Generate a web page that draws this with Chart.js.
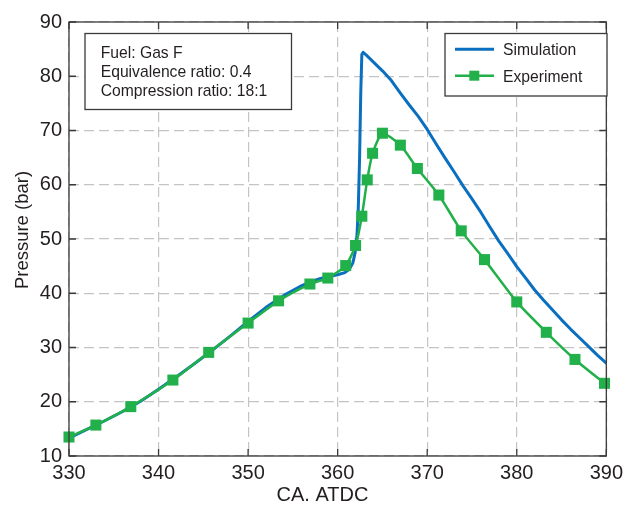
<!DOCTYPE html>
<html>
<head>
<meta charset="utf-8">
<script src="https://cdn.jsdelivr.net/npm/chart.js@4.4.1/dist/chart.umd.min.js"></script>
<style>
  html, body { margin: 0; padding: 0; background: #ffffff; }
  #wrap { width: 628px; height: 506px; }
</style>
</head>
<body>
<div id="wrap"><canvas id="c" width="628" height="506"></canvas></div>
<script>
// ---- data ----
const simX = [330, 332, 334, 336, 338, 340, 342, 344, 346, 348, 350, 352, 354, 356, 357, 358, 359, 360, 360.8, 361.3, 361.7, 361.95, 362.15, 362.3, 362.45, 362.58, 362.7, 362.85, 363.2, 364, 365, 366, 367, 368, 369, 370, 371, 372, 373, 374, 375, 376, 377, 378, 379, 380, 381, 382, 383, 384, 385, 386, 387, 388, 389, 390];
const simY = [13.3, 14.9, 16.5, 18.2, 20.1, 22.3, 24.6, 27.0, 29.5, 32.1, 34.8, 37.4, 39.6, 41.4, 42.1, 42.7, 43.1, 43.4, 43.8, 44.4, 45.6, 47.5, 50.5, 55.5, 65, 77, 84.0, 84.4, 83.9, 82.6, 81.0, 79.2, 76.9, 74.7, 72.6, 70.2, 67.5, 64.9, 62.4, 59.8, 57.4, 54.9, 52.2, 49.6, 47.3, 44.9, 42.8, 40.6, 38.7, 36.9, 35.1, 33.4, 31.8, 30.2, 28.6, 27.1];
const expX = [330, 333.0, 336.9, 341.6, 345.6, 350.0, 353.4, 356.9, 358.9, 360.9, 362.0, 362.7, 363.3, 363.9, 365.0, 367.0, 368.9, 371.3, 373.8, 376.4, 380.0, 383.3, 386.5, 389.8];
const expY = [13.5, 15.7, 19.1, 24.0, 29.1, 34.5, 38.6, 41.7, 42.8, 45.1, 48.8, 54.2, 60.9, 65.8, 69.5, 67.3, 63.0, 58.1, 51.5, 46.2, 38.4, 32.8, 27.8, 23.4];
const seriesNames = ["Simulation", "Experiment"];
const xTicks = [330, 340, 350, 360, 370, 380, 390];
const yTicks = [10, 20, 30, 40, 50, 60, 70, 80, 90];
const infoLines = ["Fuel: Gas F", "Equivalence ratio: 0.4", "Compression ratio: 18:1"];
const xTitle = "CA. ATDC";
const yTitle = "Pressure (bar)";

const BLUE = "#0a6fbf";
const GREEN = "#22b04a";
const TEXT = "#231f20";
const FRAME = "#3a3a3a";
const FONT = "'Liberation Sans', Arial, Helvetica, sans-serif";

const simData = simX.map((x, i) => ({ x: x, y: simY[i] }));
const expData = expX.map((x, i) => ({ x: x, y: expY[i] }));

const decor = {
  id: "decor",
  afterDraw(chart) {
    const ctx = chart.ctx;
    const a = chart.chartArea;
    const xs = chart.scales.x, ys = chart.scales.y;
    ctx.save();
    // frame
    ctx.strokeStyle = FRAME;
    ctx.lineWidth = 1.3;
    ctx.setLineDash([]);
    ctx.strokeRect(a.left, a.top, a.right - a.left, a.bottom - a.top);
    // inward ticks
    const tl = 7;
    ctx.beginPath();
    xTicks.forEach(v => {
      const px = xs.getPixelForValue(v);
      ctx.moveTo(px, a.bottom); ctx.lineTo(px, a.bottom - tl);
      ctx.moveTo(px, a.top); ctx.lineTo(px, a.top + tl);
    });
    yTicks.forEach(v => {
      const py = ys.getPixelForValue(v);
      ctx.moveTo(a.left, py); ctx.lineTo(a.left + tl, py);
      ctx.moveTo(a.right, py); ctx.lineTo(a.right - tl, py);
    });
    ctx.stroke();

    // info box
    ctx.fillStyle = "#ffffff";
    ctx.fillRect(85, 33.5, 206.5, 76);
    ctx.strokeStyle = FRAME;
    ctx.lineWidth = 1.3;
    ctx.strokeRect(85, 33.5, 206.5, 76);
    ctx.fillStyle = TEXT;
    ctx.font = "15.7px " + FONT;
    ctx.textAlign = "left";
    ctx.textBaseline = "alphabetic";
    const bl = [57.5, 76.5, 95.5];
    infoLines.forEach((t, i) => ctx.fillText(t, 100.7, bl[i]));

    // legend
    ctx.fillStyle = "#ffffff";
    ctx.fillRect(445, 33.5, 162, 62.5);
    ctx.strokeRect(445, 33.5, 162, 62.5);
    ctx.lineCap = "butt";
    ctx.strokeStyle = BLUE; ctx.lineWidth = 3;
    ctx.beginPath(); ctx.moveTo(455, 49.3); ctx.lineTo(494, 49.3); ctx.stroke();
    ctx.strokeStyle = GREEN; ctx.lineWidth = 2.5;
    ctx.beginPath(); ctx.moveTo(455, 75.7); ctx.lineTo(494, 75.7); ctx.stroke();
    ctx.fillStyle = GREEN;
    ctx.fillRect(474.3 - 5, 75.7 - 5, 10, 10);
    ctx.fillStyle = TEXT;
    ctx.fillText(seriesNames[0], 503, 55);
    ctx.fillText(seriesNames[1], 503, 81.7);

    // axis titles
    ctx.font = "20px " + FONT;
    ctx.textAlign = "center";
    ctx.textBaseline = "middle";
    ctx.fillText(xTitle, 322.5, 495);
    ctx.save();
    ctx.translate(23, 230);
    ctx.rotate(-Math.PI / 2);
    ctx.font = "18.5px " + FONT;
    ctx.fillText(yTitle, 0, 0);
    ctx.restore();
    ctx.restore();
  }
};

new Chart(document.getElementById("c"), {
  type: "line",
  data: {
    datasets: [
      {
        label: seriesNames[0],
        data: simData,
        borderColor: BLUE,
        backgroundColor: BLUE,
        borderWidth: 3,
        borderJoinStyle: "round",
        borderCapStyle: "round",
        pointRadius: 0,
        tension: 0,
        fill: false,
        order: 2
      },
      {
        label: seriesNames[1],
        data: expData,
        borderColor: GREEN,
        backgroundColor: GREEN,
        borderWidth: 2.5,
        borderJoinStyle: "round",
        pointStyle: "rect",
        pointRadius: 7.8,
        pointBorderWidth: 0,
        tension: 0.2,
        fill: false,
        clip: false,
        order: 1
      }
    ]
  },
  options: {
    responsive: false,
    animation: false,
    devicePixelRatio: 1,
    layout: { padding: { top: 22, right: 19, left: 0, bottom: 0 } },
    plugins: { legend: { display: false }, tooltip: { enabled: false }, title: { display: false } },
    scales: {
      x: {
        type: "linear",
        min: 330, max: 390,
        afterBuildTicks: s => { s.ticks = xTicks.map(v => ({ value: v })); },
        afterFit: s => { s.height = 50; },
        ticks: { color: TEXT, font: { family: FONT, size: 20 }, padding: 5, maxRotation: 0 },
        grid: { color: "#c4c4c4", lineWidth: 1.2, drawTicks: false },
        border: { display: false, dash: [10, 5] }
      },
      y: {
        type: "linear",
        min: 10, max: 90,
        afterBuildTicks: s => { s.ticks = yTicks.map(v => ({ value: v })); },
        afterFit: s => { s.width = 69; },
        ticks: { color: TEXT, font: { family: FONT, size: 20 }, padding: 7 },
        grid: { color: "#c4c4c4", lineWidth: 1.2, drawTicks: false },
        border: { display: false, dash: [10, 5] }
      }
    }
  },
  plugins: [decor]
});
</script>
</body>
</html>
